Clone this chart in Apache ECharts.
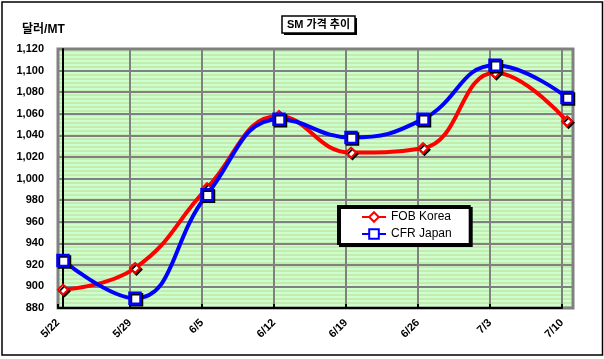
<!DOCTYPE html>
<html><head><meta charset="utf-8">
<script src="https://cdn.jsdelivr.net/npm/echarts@6/dist/echarts.min.js"></script>
<style>html,body{margin:0;padding:0;background:#fff}#c{width:604px;height:359px}</style>
</head><body><div id="c"></div>
<script>
const categories = ['5/22','5/29','6/5','6/12','6/19','6/26','7/3','7/10'];
const fobKorea = [897, 917, 991, 1058, 1024, 1028, 1098, 1053];
const cfrJapan = [924, 889, 985, 1055, 1038, 1055, 1105, 1075];
const yMin = 880, yMax = 1120, yStep = 20;
const titleText = 'SM 가격 추이';
const unitText = '달러/MT';

const FONT = '"Liberation Sans", Arial, "Noto Sans CJK KR", sans-serif';

// striped plot background pattern
const pc = document.createElement('canvas');
pc.width = 4; pc.height = 4;
const pctx = pc.getContext('2d');
pctx.fillStyle = '#ccffcc'; pctx.fillRect(0,0,4,4);
pctx.fillStyle = '#c4ecb0'; pctx.fillRect(0,2,4,2);

const chart = echarts.init(document.getElementById('c'), null, {renderer:'canvas'});
const toPairs = arr => arr.map((v,i)=>[i,v]);
const gL = 58, gT = 49, gW = 515, gH = 259;
const unit = 72;

chart.setOption({
  animation:false,
  textStyle:{fontFamily:FONT},
  grid:[
    {left:gL, top:gT, width:gW, height:gH, show:true, backgroundColor:{image:pc, repeat:'repeat'}, borderColor:'#808080', borderWidth:3, z:0},
    {left:gL, top:gT, width:7*unit, height:gH, show:false}
  ],
  xAxis:[
    {gridIndex:0, type:'value', min:-5/unit, max:-5/unit + gW/unit, show:false},
    {gridIndex:1, type:'value', min:0, max:7, interval:1,
      axisLine:{show:true, lineStyle:{color:'#000', width:2}},
      axisTick:{show:true, inside:true, length:4, lineStyle:{color:'#000', width:2}},
      splitLine:{show:true, lineStyle:{color:'#808080', width:2}},
      axisLabel:{rotate:45, margin:13, color:'#000', fontWeight:'bold', fontSize:11, fontFamily:FONT,
        formatter:v => (Number.isInteger(v) && categories[v]) ? categories[v] : ''}}
  ],
  yAxis:[
    {gridIndex:0, type:'value', min:yMin, max:yMax, interval:yStep,
      axisLine:{show:true, lineStyle:{color:'#000', width:2}},
      axisTick:{show:false},
      splitLine:{show:true, lineStyle:{color:'#808080', width:2}},
      axisLabel:{margin:14, color:'#000', fontWeight:'bold', fontSize:11, fontFamily:FONT,
        formatter:v => v.toLocaleString('en-US')}},
    {gridIndex:1, type:'value', min:0, max:1, show:false}
  ],
  legend:{
    orient:'vertical', left:338, top:206, padding:[5,18,4,23], itemGap:5,
    itemWidth:24, itemHeight:12,
    backgroundColor:'#fff', borderColor:'#000', borderWidth:2,
    shadowColor:'#000', shadowOffsetX:2, shadowOffsetY:2, shadowBlur:0,
    textStyle:{color:'#000', fontSize:12, fontFamily:FONT},
    data:['FOB Korea','CFR Japan']
  },
  series:[
    {name:'FOB Korea', type:'line', xAxisIndex:0, yAxisIndex:0, smooth:0.45, data:toPairs(fobKorea),
      lineStyle:{color:'#ff0000', width:4}, symbol:'diamond', symbolSize:10,
      itemStyle:{color:'#fff', borderColor:'#ff0000', borderWidth:2, shadowColor:'#000', shadowOffsetX:1.5, shadowOffsetY:1.5, shadowBlur:0},
      z:3},
    {name:'CFR Japan', type:'line', xAxisIndex:0, yAxisIndex:0, smooth:0.45, data:toPairs(cfrJapan),
      lineStyle:{color:'#0000ff', width:4}, symbol:'rect', symbolSize:11,
      itemStyle:{color:'#fff', borderColor:'#0000ff', borderWidth:2.5, shadowColor:'#000', shadowOffsetX:1.5, shadowOffsetY:1.5, shadowBlur:0},
      z:4}
  ],
  graphic:[
    {type:'rect', shape:{x:2, y:2, width:600.5, height:353}, style:{fill:null, stroke:'#000', lineWidth:1.5}, z:100, silent:true},
    {type:'rect', shape:{x:284, y:18, width:73, height:17}, style:{fill:'#000'}, z:100},
    {type:'rect', shape:{x:282, y:16, width:73, height:17}, style:{fill:'#fff', stroke:'#000', lineWidth:1.5}, z:101},
    {type:'text', x:318.5, y:25, style:{text:titleText, fill:'#000', font:'bold 11px ' + FONT, textAlign:'center', textVerticalAlign:'middle'}, z:102},
    {type:'text', x:22, y:30, style:{text:unitText, fill:'#000', font:'bold 12px ' + FONT, textAlign:'left', textVerticalAlign:'middle'}, z:102}
  ]
});
</script></body></html>
